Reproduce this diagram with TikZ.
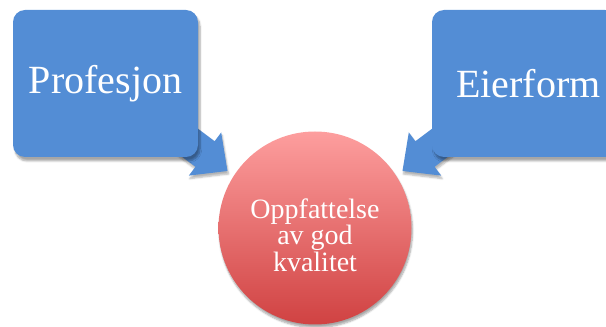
\documentclass[tikz,border=0pt]{standalone}
\usepackage{fontspec}
\setmainfont{Liberation Serif}
\usetikzlibrary{shadows.blur}
\definecolor{boxblue}{RGB}{83,141,213}
\definecolor{ctop}{RGB}{253,158,158}
\definecolor{cbot}{RGB}{208,66,66}
\tikzset{
  bluebox/.style={draw=none, fill=boxblue, rounded corners=12pt, minimum width=185pt, minimum height=147pt, inner sep=0pt, text=white, font=\fontsize{40}{42}\selectfont,
    blur shadow={shadow xshift=2pt, shadow yshift=-4pt, shadow blur steps=6, shadow opacity=35}},
  blockarrow/.style={fill=boxblue, draw=none,
    blur shadow={shadow xshift=1pt, shadow yshift=-3pt, shadow blur steps=5, shadow opacity=30}},
  ballnode/.style={circle, draw=none, minimum size=193pt, inner sep=0pt, top color=ctop, bottom color=cbot, shading angle=0,
    blur shadow={shadow xshift=1pt, shadow yshift=-3pt, shadow blur steps=6, shadow opacity=35}},
  balltext/.style={text=white, align=center, inner sep=0pt, font=\fontsize{28}{26.5}\selectfont}
}
\begin{document}
\begin{tikzpicture}[x=1pt, y=1pt]
\useasboundingbox (0,0) rectangle (606,327);
\clip (0,0) rectangle (606,327);
% left arrow
\coordinate (lt) at (227.5,156);
\fill[blockarrow] (lt) -- (221.2,194.6) -- (214.6,185.8) -- (166.6,221.8) -- (147.4,196.2) -- (195.4,160.2) -- (188.8,151.4) -- cycle;
% right arrow
\coordinate (rt) at (402.5,156);
\fill[blockarrow] (rt) -- (408.8,194.6) -- (415.4,185.8) -- (463.4,221.8) -- (482.6,196.2) -- (434.6,160.2) -- (441.2,151.4) -- cycle;
% boxes
\node[bluebox] (prof) at (105.5,243.5) {Profesjon};
\node[bluebox] (eier) at (524.5,243.5) {\hspace*{8pt}Eierform};
% circle
\node[ballnode] (kval) at (315,99) {};
\node[balltext] (kvaltext) at (315,92) {Oppfattelse\\av god\\kvalitet};
\end{tikzpicture}
\end{document}
